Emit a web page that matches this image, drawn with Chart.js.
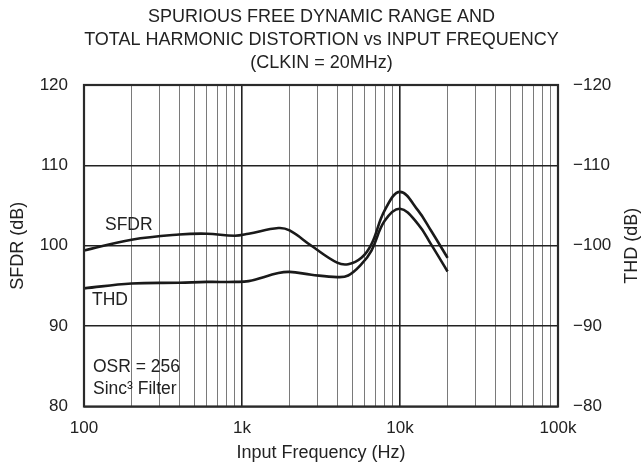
<!DOCTYPE html>
<html>
<head>
<meta charset="utf-8">
<script src="https://cdn.jsdelivr.net/npm/chart.js@4/dist/chart.umd.min.js"></script>
<style>
  html, body { margin: 0; padding: 0; background: #fff; }
  #wrap { width: 643px; height: 467px; }
</style>
</head>
<body>
<div id="wrap"><canvas id="myChart"></canvas></div>
<script>
// input frequency (Hz)
var freq = [100, 200, 400, 600, 900, 1100, 1700, 2000, 2750, 4000, 4700, 5700, 6600, 8000, 10000, 13000, 15700, 20000];
// SFDR (dB), left axis
var sfdr = [99.4, 100.75, 101.4, 101.5, 101.25, 101.5, 102.2, 101.9, 100.0, 97.9, 97.7, 98.5, 100.2, 104.4, 106.7, 104.4, 101.9, 98.5];
// THD (dB), right axis
var thd = [-94.7, -95.3, -95.4, -95.5, -95.5, -95.6, -96.6, -96.75, -96.4, -96.1, -96.3, -97.7, -99.4, -103.1, -104.6, -102.7, -100.2, -96.8];
var decades = [100, 1000, 10000, 100000];
var decadeLabels = ["100", "1k", "10k", "100k"];

var titleLines = ["SPURIOUS FREE DYNAMIC RANGE AND", "TOTAL HARMONIC DISTORTION vs INPUT FREQUENCY", "(CLKIN = 20MHz)"];
var FONT = "'Liberation Sans', Arial, sans-serif";
var TXT = '#222';

var sfdrPts = [], thdPts = [];
for (var i = 0; i < freq.length; i++) {
  sfdrPts.push({x: freq[i], y: sfdr[i]});
  thdPts.push({x: freq[i], y: thd[i]});
}

var extras = {
  id: 'extras',
  afterDraw: function(chart) {
    var c = chart.ctx, a = chart.chartArea;
    var xs = chart.scales.x, ys = chart.scales.y;
    var midY = (a.top + a.bottom) / 2;
    c.save();
    // frame
    c.strokeStyle = '#2a2a2a';
    c.lineWidth = 2.2;
    c.strokeRect(a.left, a.top, a.right - a.left, a.bottom - a.top);
    // title
    c.fillStyle = TXT;
    c.font = '18px ' + FONT;
    c.textAlign = 'center';
    c.textBaseline = 'middle';
    for (var j = 0; j < titleLines.length; j++) {
      c.fillText(titleLines[j], 321.5, 17 + j * 23.2);
    }
    // x axis title
    c.fillText('Input Frequency (Hz)', (a.left + a.right) / 2, 453);
    // y axis titles, both read bottom-to-top
    c.save();
    c.translate(18, midY);
    c.rotate(-Math.PI / 2);
    c.fillText('SFDR (dB)', 0, 0);
    c.restore();
    c.save();
    c.translate(632, midY);
    c.rotate(-Math.PI / 2);
    c.fillText('THD (dB)', 0, 0);
    c.restore();
    // curve labels and notes
    c.textAlign = 'left';
    c.font = '17.5px ' + FONT;
    c.fillText('SFDR', 105, ys.getPixelForValue(102.6));
    c.fillText('THD', 92, ys.getPixelForValue(93.2));
    c.fillText('OSR = 256', 93, ys.getPixelForValue(84.85));
    c.fillText('Sinc\u00B3 Filter', 93, ys.getPixelForValue(82.1));
    c.restore();
  }
};

new Chart(document.getElementById('myChart'), {
  type: 'line',
  data: {
    datasets: [{
      label: 'SFDR',
      data: sfdrPts,
      yAxisID: 'y',
      borderColor: '#1a1a1a',
      borderWidth: 2.6,
      pointRadius: 0,
      tension: 0.4,
      fill: false
    }, {
      label: 'THD',
      data: thdPts,
      yAxisID: 'y2',
      borderColor: '#1a1a1a',
      borderWidth: 2.6,
      pointRadius: 0,
      tension: 0.4,
      fill: false
    }]
  },
  options: {
    responsive: true,
    maintainAspectRatio: false,
    animation: false,
    layout: { padding: { top: 85, left: 0, right: 0, bottom: 0 } },
    plugins: {
      legend: { display: false },
      tooltip: { enabled: false },
      title: { display: false }
    },
    scales: {
      x: {
        type: 'logarithmic',
        min: 100,
        max: 100000,
        afterBuildTicks: function(scale) {
          var t = [];
          for (var d = 0; d < decades.length - 1; d++) {
            for (var k = 1; k < 10; k++) t.push({value: k * decades[d]});
          }
          t.push({value: decades[decades.length - 1]});
          scale.ticks = t;
        },
        afterFit: function(scale) { scale.height = 60.5; },
        grid: {
          color: function(ctx) {
            return decades.indexOf(ctx.tick && ctx.tick.value) >= 0 ? '#222' : '#7a7a7a';
          },
          lineWidth: function(ctx) {
            return decades.indexOf(ctx.tick && ctx.tick.value) >= 0 ? 1.6 : 1;
          },
          drawTicks: false
        },
        border: { display: false },
        ticks: {
          autoSkip: false,
          maxRotation: 0,
          padding: 12,
          color: TXT,
          font: { family: FONT, size: 17 },
          callback: function(v) {
            var i = decades.indexOf(v);
            return i >= 0 ? decadeLabels[i] : '';
          }
        }
      },
      y: {
        position: 'left',
        min: 80,
        max: 120,
        afterFit: function(scale) { scale.width = 84; },
        grid: { color: '#222', lineWidth: 1.6, drawTicks: false },
        border: { display: false },
        ticks: {
          stepSize: 10,
          padding: 16,
          color: TXT,
          font: { family: FONT, size: 17 }
        }
      },
      y2: {
        position: 'right',
        min: -120,
        max: -80,
        reverse: true,
        afterFit: function(scale) { scale.width = 85; },
        grid: { drawOnChartArea: false, drawTicks: false },
        border: { display: false },
        ticks: {
          stepSize: 10,
          padding: 15,
          color: TXT,
          font: { family: FONT, size: 17 },
          callback: function(v) { return '\u2212' + Math.abs(v); }
        }
      }
    }
  },
  plugins: [extras]
});
</script>
</body>
</html>
